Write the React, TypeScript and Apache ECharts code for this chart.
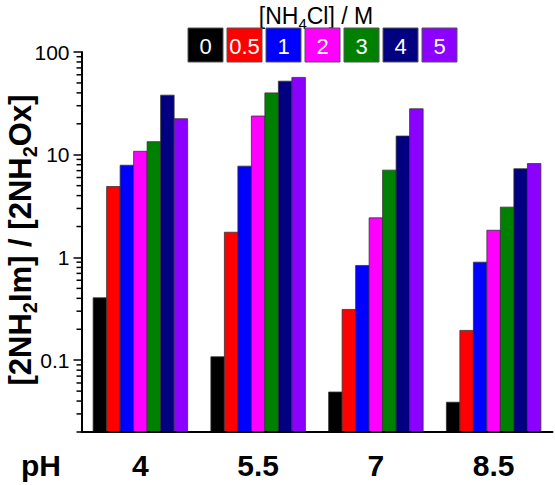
import React, { useEffect, useRef } from "react";
import * as echarts from "echarts";

const categories = ["4", "5.5", "7", "8.5"];
const seriesNames = ["0", "0.5", "1", "2", "3", "4", "5"];
const seriesColors = ["#000000", "#ff0000", "#0000ff", "#ff00ff", "#008000", "#000080", "#8b00ff"];
const values0 = [0.405, 0.108, 0.049, 0.039];
const values05 = [4.9, 1.76, 0.312, 0.195];
const values1 = [7.9, 7.74, 0.836, 0.9];
const values2 = [10.8, 23.8, 2.43, 1.84];
const values3 = [13.4, 40, 7.08, 3.09];
const values4 = [38, 52, 15.2, 7.3];
const values5 = [22.4, 56.6, 28, 8.2];
const seriesValues = [values0, values05, values1, values2, values3, values4, values5];
const yMin = 0.02;
const yMax = 100;
const minorDecades = [0.01, 0.1, 1, 10];
const minorSteps = [2, 3, 4, 5, 6, 7, 8, 9];

const FONT = "'Liberation Sans', Arial, sans-serif";
const BAR_W = 13.5;

export default function App() {
  const ref = useRef<HTMLDivElement>(null);
  useEffect(() => {
    if (!ref.current) return;
    const chart = echarts.init(ref.current, null, { renderer: "svg" });

    const minorTicks: number[][] = [];
    minorDecades.forEach((d) =>
      minorSteps.forEach((m) => {
        const v = +(m * d).toPrecision(3);
        if (v >= yMin && v <= yMax) minorTicks.push([0, v]);
      })
    );

    const gridLeft = 81.5;
    const legendLeft = 188;
    const legendPitch = 39;
    const nSeries = seriesNames.length;

    const legendItems: any[] = seriesNames.map((n, i) => ({
      type: "group",
      x: legendLeft + i * legendPitch,
      y: 28,
      children: [
        {
          type: "rect",
          shape: { x: 0, y: 0, width: 35, height: 34 },
          style: { fill: seriesColors[i], stroke: "#555", lineWidth: 1 },
        },
        {
          type: "text",
          x: 17.5,
          y: 18,
          style: {
            text: n,
            fill: "#fff",
            font: `22px ${FONT}`,
            align: "center",
            verticalAlign: "middle",
          },
        },
      ],
    }));

    const barSeries = seriesNames.map((n, i) => ({
      name: n,
      type: "custom",
      clip: false,
      encode: { x: 0, y: 1 },
      data: categories.map((c, k) => [k, seriesValues[i][k]]),
      renderItem: (params: any, api: any) => {
        const cat = api.value(0);
        const top = api.coord([cat, api.value(1)]);
        const base = api.coord([cat, yMin]);
        const left = top[0] + (i - nSeries / 2) * BAR_W;
        return {
          type: "rect",
          shape: { x: left, y: top[1], width: BAR_W, height: base[1] - top[1] },
          style: { fill: seriesColors[i], stroke: "#333", lineWidth: 0.8 },
        };
      },
    }));

    const option: any = {
      animation: false,
      grid: { left: gridLeft, top: 52, width: 471, height: 380, containLabel: false },
      xAxis: {
        type: "category",
        data: categories,
        axisLine: { show: true, lineStyle: { color: "#000", width: 2 } },
        axisTick: { show: false },
        axisLabel: {
          color: "#000",
          fontSize: 30,
          fontWeight: "bold",
          fontFamily: FONT,
          margin: 18,
        },
        splitLine: { show: false },
        z: 5,
      },
      yAxis: {
        type: "log",
        logBase: 10,
        min: yMin,
        max: yMax,
        axisLine: { show: true, lineStyle: { color: "#000", width: 2 } },
        axisTick: { show: true, length: 8, lineStyle: { color: "#000", width: 1.5 } },
        axisLabel: {
          color: "#000",
          fontSize: 21,
          fontFamily: FONT,
          margin: 12,
          showMinLabel: false,
          formatter: (v: number) => String(+Number(v).toPrecision(3)),
        },
        splitLine: { show: false },
      },
      series: [
        ...barSeries,
        {
          type: "custom",
          silent: true,
          clip: false,
          data: minorTicks,
          renderItem: (params: any, api: any) => {
            const y = api.coord([0, api.value(1)])[1];
            const x0 = params.coordSys.x;
            return {
              type: "line",
              shape: { x1: x0 - 5, y1: y, x2: x0, y2: y },
              style: { stroke: "#000", lineWidth: 1.5 },
            };
          },
        },
      ],
      graphic: [
        {
          type: "text",
          x: 20,
          y: 240,
          rotation: Math.PI / 2,
          style: {
            text: "{b|[2NH}{s|2}{b|Im] / [2NH}{s|2}{b|Ox]}",
            align: "center",
            verticalAlign: "middle",
            fill: "#000",
            rich: {
              b: { fontSize: 31, fontWeight: "bold", fontFamily: FONT, lineHeight: 40, verticalAlign: "middle" },
              s: { fontSize: 20, fontWeight: "bold", fontFamily: FONT, lineHeight: 40, verticalAlign: "bottom" },
            },
          },
        },
        {
          type: "text",
          x: 41,
          y: 465,
          style: {
            text: "pH",
            fill: "#000",
            font: `bold 30px ${FONT}`,
            align: "center",
            verticalAlign: "middle",
          },
        },
        {
          type: "text",
          x: 316,
          y: 16,
          style: {
            text: "{n|[NH}{s|4}{n|Cl] / M}",
            align: "center",
            verticalAlign: "middle",
            fill: "#000",
            rich: {
              n: { fontSize: 23, fontFamily: FONT, lineHeight: 30, verticalAlign: "middle" },
              s: { fontSize: 15, fontFamily: FONT, lineHeight: 30, verticalAlign: "bottom" },
            },
          },
        },
        ...legendItems,
      ],
    };
    chart.setOption(option);
    return () => chart.dispose();
  }, []);
  return (
    <div
      ref={ref}
      style={{ position: "fixed", left: 0, top: 0, width: 555, height: 485, background: "#fff" }}
    />
  );
}
